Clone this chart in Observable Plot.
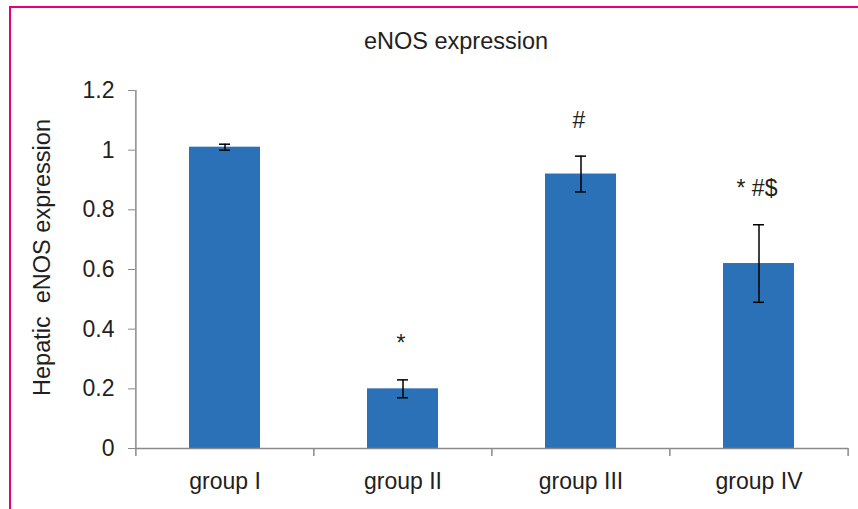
<!DOCTYPE html>
<html>
<head>
<meta charset="utf-8">
<script src="https://cdn.jsdelivr.net/npm/d3@7"></script>
<script src="https://cdn.jsdelivr.net/npm/@observablehq/plot@0.6"></script>
<style>
  html, body { margin: 0; padding: 0; background: #fff; }
  body { width: 858px; height: 509px; overflow: hidden; position: relative; font-family: "Liberation Sans", Arial, Helvetica, sans-serif; }
  #frame { position: absolute; left: 9px; top: 6px; width: 900px; height: 600px; box-sizing: border-box;
           border-left: 2.5px solid #e4007c; border-top: 2.5px solid #e4007c; }
  #title { position: absolute; top: 29.5px; left: 306px; width: 300px; text-align: center;
           font-size: 23.5px; line-height: 23px; color: #231f20; }
  #chart { position: absolute; left: 0; top: 60px; }
  #chart svg g[aria-label="y-axis tick"], #chart svg g[aria-label="x-axis tick"] { stroke: #8a8a8a; }
  #chart svg .tick line { stroke: #8a8a8a; }
  #chart svg .domain { display: none; }
</style>
</head>
<body>
<div id="frame"></div>
<div id="title">eNOS expression</div>
<div id="chart"></div>
<script>
const categories = ["group I", "group II", "group III", "group IV"];
const means = [1.01, 0.20, 0.92, 0.62];
const errors = [0.01, 0.03, 0.06, 0.13];
const significance = ["", "*", "#", "* #$"];
const yTicks = [0, 0.2, 0.4, 0.6, 0.8, 1, 1.2];
const yLabel = "Hepatic  eNOS expression";

const data = categories.map((c, i) => ({
  group: c, mean: means[i], lo: means[i] - errors[i], hi: means[i] + errors[i], sig: significance[i]
}));

const W = 858, H = 449, mL = 135, mR = 10, mT = 30, mB = 61;
const step = (W - mL - mR) / categories.length;
const axisGray = "#8a8a8a";

const chart = Plot.plot({
  width: W, height: H,
  marginLeft: mL, marginRight: mR, marginTop: mT, marginBottom: mB,
  style: { fontSize: "23px", fontFamily: "'Liberation Sans', Arial, Helvetica, sans-serif", color: "#231f20", background: "transparent", overflow: "visible" },
  x: { domain: categories, paddingInner: 0.6, paddingOuter: 0.3, tickSize: 0, tickPadding: 24, label: null },
  y: { domain: [0, 1.2], ticks: yTicks, tickFormat: d => String(d), tickSize: 7, tickPadding: 14, label: null },
  marks: [
    Plot.barY(data, { x: "group", y: "mean", fill: "#2a71b8" }),
    Plot.ruleY([0], { stroke: axisGray, strokeWidth: 1.5 }),
    Plot.ruleX([categories[0]], { x: d => d, y1: 1.2, y2: 0, dx: -step / 2, insetBottom: -8, stroke: axisGray, strokeWidth: 1.5 }),
    Plot.ruleX(categories.slice(1), { x: d => d, y1: 0, y2: 0, dx: -step / 2, insetBottom: -8, stroke: axisGray, strokeWidth: 1.5 }),
    Plot.ruleX([categories[categories.length - 1]], { x: d => d, y1: 0, y2: 0, dx: step / 2, insetBottom: -8, stroke: axisGray, strokeWidth: 1.5 }),
    Plot.ruleX(data, { x: "group", y1: "lo", y2: "hi", stroke: "#000", strokeWidth: 1.5 }),
    Plot.tickY(data, { x: "group", y: "hi", stroke: "#000", strokeWidth: 1.5, insetLeft: 30, insetRight: 30 }),
    Plot.tickY(data, { x: "group", y: "lo", stroke: "#000", strokeWidth: 1.5, insetLeft: 30, insetRight: 30 }),
    Plot.text(data.filter(d => d.sig), { x: "group", y: "hi", text: "sig", dy: -36, dx: -2, fontSize: 23, fill: "#231f20" }),
    Plot.text([yLabel], { frameAnchor: "left", rotate: -90, textAnchor: "middle", lineAnchor: "top", dx: -102, dy: -12, fontSize: 23.5, fill: "#231f20" })
  ]
});
document.getElementById("chart").appendChild(chart);
</script>
</body>
</html>
